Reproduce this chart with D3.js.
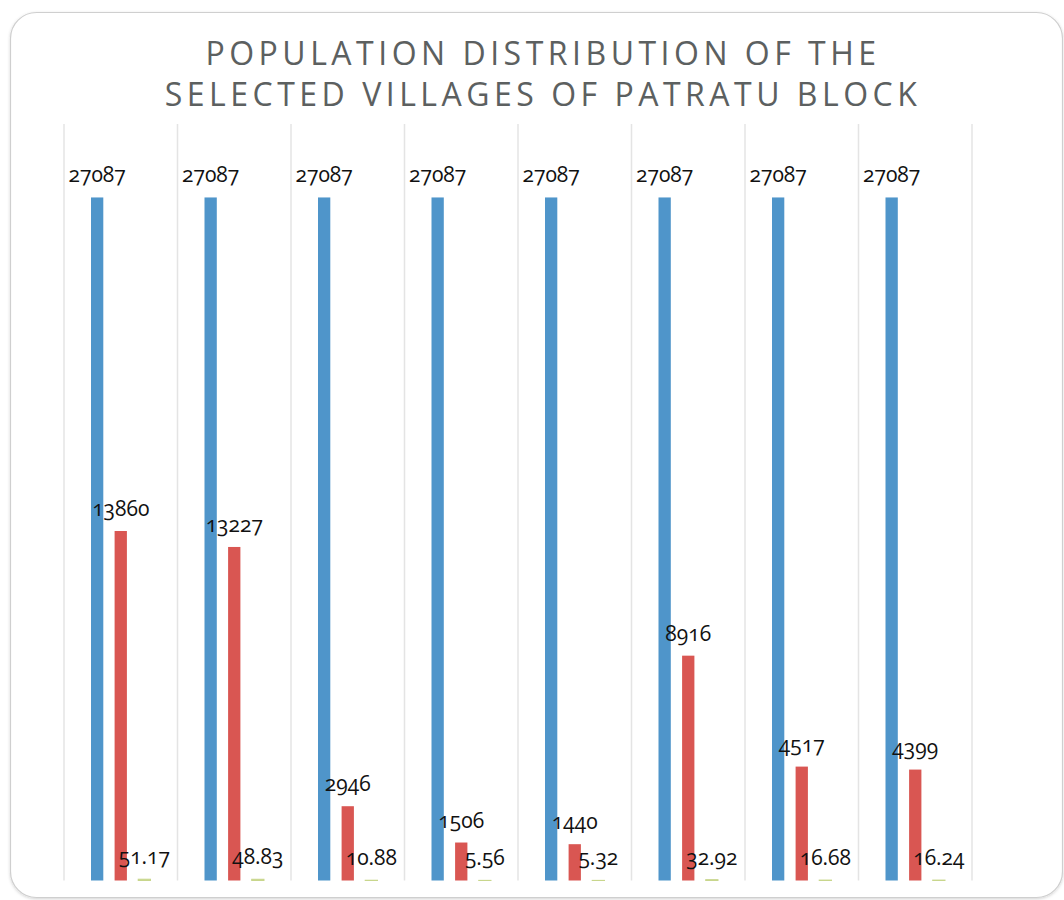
<!DOCTYPE html>
<html>
<head>
<meta charset="utf-8">
<script src="https://cdn.jsdelivr.net/npm/d3@7"></script>
<style>
  html, body { margin: 0; padding: 0; background: #ffffff; }
  svg { display: block; }
  .title { font-family: "Open Sans", sans-serif; font-size: 32px; fill: #5c6060; letter-spacing: 4.5px; }
  .val { font-family: "Open Sans", sans-serif; font-size: 21px; fill: #111; font-feature-settings: "onum" 1; font-variant-numeric: oldstyle-nums; }
</style>
</head>
<body>
<svg id="chart" width="1064" height="900"></svg>
<script>
// Villages (one group per village) and the three series drawn for each
const villages = ["V1", "V2", "V3", "V4", "V5", "V6", "V7", "V8"];
const seriesNames = ["Block population", "Village population", "Share (%)"];
const blockPopulation = [27087, 27087, 27087, 27087, 27087, 27087, 27087, 27087];
const villagePopulation = [13860, 13227, 2946, 1506, 1440, 8916, 4517, 4399];
const sharePercent = [51.17, 48.83, 10.88, 5.56, 5.32, 32.92, 16.68, 16.24];
const seriesLabels = [
  ["27087", "27087", "27087", "27087", "27087", "27087", "27087", "27087"],
  ["13860", "13227", "2946", "1506", "1440", "8916", "4517", "4399"],
  ["51.17", "48.83", "10.88", "5.56", "5.32", "32.92", "16.68", "16.24"]
];
const titleLines = ["POPULATION DISTRIBUTION OF THE", "SELECTED VILLAGES OF PATRATU BLOCK"];

const colors = ["#4f95ca", "#d95652", "#c8d68c"];
const seriesValues = [blockPopulation, villagePopulation, sharePercent];

const svg = d3.select("#chart");

// Card background with rounded border
const defs = svg.append("defs");
const f = defs.append("filter").attr("id", "shadow").attr("x", "-5%").attr("y", "-5%").attr("width", "110%").attr("height", "110%");
f.append("feDropShadow").attr("dx", 0).attr("dy", 1).attr("stdDeviation", 1.5).attr("flood-color", "#000").attr("flood-opacity", 0.18);

svg.append("rect")
  .attr("x", 10.5).attr("y", 12.5)
  .attr("width", 1052).attr("height", 885)
  .attr("rx", 26).attr("ry", 26)
  .attr("fill", "#ffffff")
  .attr("stroke", "#cfcfcf")
  .attr("stroke-width", 1.2)
  .attr("filter", "url(#shadow)");

// Title
svg.append("g").selectAll("text")
  .data(titleLines)
  .join("text")
  .attr("class", "title")
  .attr("x", 543)
  .attr("y", (d, i) => 65 + i * 41)
  .attr("text-anchor", "middle")
  .text(d => d);

// Scales
const x0 = d3.scaleBand().domain(villages).range([64, 972]).padding(0);
const x1 = d3.scaleBand().domain(d3.range(3)).range([0, x0.bandwidth()])
  .paddingInner(0.479).paddingOuter(1.144);
const y = d3.scaleLinear().domain([0, 30000]).range([880.5, 124]);

// Vertical gridlines between village groups
const gridX = villages.map(v => x0(v)).concat([x0.range()[1]]);
svg.append("g").selectAll("line")
  .data(gridX)
  .join("line")
  .attr("x1", d => d).attr("x2", d => d)
  .attr("y1", y(30000)).attr("y2", y(0))
  .attr("stroke", "#e4e4e4")
  .attr("stroke-width", 1.5);

// Bars
const groups = svg.append("g").selectAll("g")
  .data(villages)
  .join("g")
  .attr("transform", d => `translate(${x0(d)},0)`);

groups.each(function (v, vi) {
  const g = d3.select(this);
  seriesValues.forEach((vals, si) => {
    const val = vals[vi];
    g.append("rect")
      .attr("x", x1(si))
      .attr("y", y(val))
      .attr("width", x1.bandwidth())
      .attr("height", y(0) - y(val))
      .attr("fill", colors[si])
      .attr("stroke", si === 2 ? colors[si] : "none")
      .attr("stroke-width", si === 2 ? 1 : 0);
    g.append("text")
      .attr("class", "val")
      .attr("x", x1(si) + x1.bandwidth() / 2)
      .attr("y", y(val) - 15)
      .attr("text-anchor", "middle")
      .text(seriesLabels[si][vi]);
  });
});
</script>
</body>
</html>
